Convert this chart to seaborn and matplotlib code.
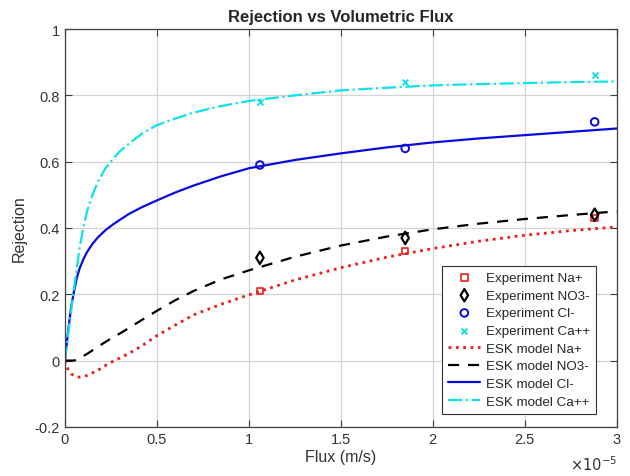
import numpy as np
import matplotlib
matplotlib.use("Agg")
import matplotlib.pyplot as plt
from matplotlib.ticker import FuncFormatter
import seaborn as sns

sns.set_style("white")
plt.rcParams['font.family'] = ['Liberation Sans', 'DejaVu Sans']

# experimental points
flux_exp = [1.06e-5, 1.85e-5, 2.88e-5]
na_exp = [0.21, 0.33, 0.43]
no3_exp = [0.31, 0.37, 0.44]
cl_exp = [0.59, 0.64, 0.72]
ca_exp = [0.78, 0.84, 0.86]

# ESK model curves
flux_model = np.array([0, 0.01, 0.02, 0.035, 0.05, 0.065, 0.08, 0.1, 0.12, 0.15,
                       0.18, 0.22, 0.26, 0.3, 0.35, 0.42, 0.5, 0.6, 0.7, 0.85,
                       1.0, 1.25, 1.5, 1.75, 2.0, 2.25, 2.5, 2.75, 3.0]) * 1e-5
na_model = [0, -0.017, -0.03, -0.04, -0.046, -0.049, -0.05, -0.048, -0.045, -0.037,
            -0.029, -0.015, -0.003, 0.008, 0.022, 0.045, 0.075, 0.107, 0.138, 0.17,
            0.198, 0.243, 0.28, 0.312, 0.338, 0.36, 0.378, 0.392, 0.403]
no3_model = [0, 0, 0, 0, 0, 0.003, 0.008, 0.014, 0.02, 0.031,
             0.042, 0.056, 0.07, 0.082, 0.099, 0.123, 0.15, 0.182, 0.21, 0.245,
             0.272, 0.313, 0.347, 0.374, 0.396, 0.413, 0.427, 0.439, 0.45]
cl_model = [0, 0.05, 0.10, 0.165, 0.21, 0.25, 0.278, 0.305, 0.327, 0.352,
            0.372, 0.393, 0.41, 0.425, 0.443, 0.463, 0.483, 0.507, 0.528, 0.556,
            0.58, 0.605, 0.625, 0.643, 0.658, 0.67, 0.68, 0.69, 0.70]
ca_model = [0, 0.045, 0.09, 0.155, 0.22, 0.28, 0.34, 0.40, 0.45, 0.50,
            0.54, 0.58, 0.607, 0.632, 0.655, 0.685, 0.71, 0.73, 0.748, 0.768,
            0.783, 0.80, 0.815, 0.823, 0.83, 0.834, 0.837, 0.84, 0.842]

red = '#ee1c1c'
blue = '#0a0ae0'
cyan = '#10e0e8'

fig = plt.figure(figsize=(6.3, 4.77), dpi=100)
ax = fig.add_axes([0.103, 0.103, 0.876, 0.834])

sns.scatterplot(x=flux_exp, y=na_exp, marker='s', s=22, facecolors='none',
                edgecolor=red, linewidth=1.2, label='Experiment Na+', ax=ax, zorder=5)
sns.scatterplot(x=flux_exp, y=no3_exp, marker='d', s=40, facecolors='none',
                edgecolor='black', linewidth=1.6, label='Experiment NO3-', ax=ax, zorder=5)
sns.scatterplot(x=flux_exp, y=cl_exp, marker='o', s=30, facecolors='none',
                edgecolor=blue, linewidth=1.4, label='Experiment Cl-', ax=ax, zorder=5)
sns.scatterplot(x=flux_exp, y=ca_exp, marker='x', s=18, color=cyan,
                linewidth=1.4, label='Experiment Ca++', ax=ax, zorder=5)

sns.lineplot(x=flux_model, y=na_model, color=red, linestyle=':', linewidth=2,
             label='ESK model Na+', ax=ax)
sns.lineplot(x=flux_model, y=no3_model, color='black', linestyle=(0, (5, 4)),
             linewidth=1.6, label='ESK model NO3-', ax=ax)
sns.lineplot(x=flux_model, y=cl_model, color=blue, linestyle='-', linewidth=1.6,
             label='ESK model Cl-', ax=ax)
sns.lineplot(x=flux_model, y=ca_model, color=cyan, linestyle='-.', linewidth=1.6,
             label='ESK model Ca++', ax=ax)

ax.set_xlim(0, 3e-5)
ax.set_ylim(-0.2, 1)
ax.set_xticks(np.arange(0, 3.01e-5, 0.5e-5))
ax.set_yticks(np.arange(-0.2, 1.01, 0.2))
ax.xaxis.set_major_formatter(FuncFormatter(lambda v, p: '%g' % round(v / 1e-5, 3)))
ax.yaxis.set_major_formatter(FuncFormatter(lambda v, p: '%g' % round(v, 3)))
ax.grid(True, color='#d4d4d4', linewidth=0.9)
ax.set_axisbelow(True)

for s in ax.spines.values():
    s.set_color('#404040')
    s.set_linewidth(0.9)
ax.tick_params(direction='in', length=5, width=0.8, color='#404040',
               labelsize=10.5, labelcolor='#333333', top=True, right=True,
               bottom=True, left=True)

ax.set_title('Rejection vs Volumetric Flux', fontsize=12, fontweight='bold', pad=6)
ax.set_xlabel('Flux (m/s)', fontsize=11.5, color='#333333', labelpad=2)
ax.set_ylabel('Rejection', fontsize=11.5, color='#333333', labelpad=6)
ax.text(1.0, -0.093, r'$\times10^{-5}$', transform=ax.transAxes, ha='right',
        va='center', fontsize=10.5, color='#333333')

leg = ax.legend(loc='lower right', bbox_to_anchor=(0.962, 0.033), fontsize=9.6,
                frameon=True, fancybox=False, handlelength=2.4, labelspacing=0.4,
                borderpad=0.45, handletextpad=0.4, framealpha=1, borderaxespad=0)
leg.get_frame().set_edgecolor('#333333')
leg.get_frame().set_linewidth(0.8)

fig.savefig('out.png', dpi=100)
